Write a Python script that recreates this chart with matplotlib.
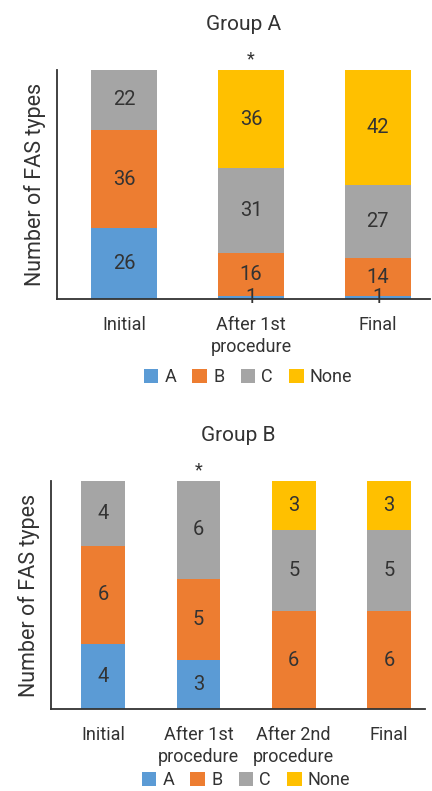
import matplotlib
matplotlib.use("Agg")
import matplotlib.pyplot as plt
from matplotlib.patches import Patch

plt.rcParams['font.family'] = ['Roboto', 'DejaVu Sans']

# Group A data
cats_a = ["Initial", "After 1st\nprocedure", "Final"]
a_a = [26, 1, 1]
b_a = [36, 16, 14]
c_a = [22, 31, 27]
none_a = [0, 36, 42]

# Group B data
cats_b = ["Initial", "After 1st\nprocedure", "After 2nd\nprocedure", "Final"]
a_b = [4, 3, 0, 0]
b_b = [6, 5, 6, 6]
c_b = [4, 6, 5, 5]
none_b = [0, 0, 3, 3]

series_names = ["A", "B", "C", "None"]
colors = ["#5B9BD5", "#ED7D31", "#A5A5A5", "#FFC000"]
text_col = "#333333"

fig = plt.figure(figsize=(4.32, 7.91), dpi=100)


def stacked(ax, cats, series, width, xlim, title, star_idx):
    x = list(range(len(cats)))
    bottoms = [0] * len(cats)
    for vals, col in zip(series, colors):
        ax.bar(x, vals, width=width, bottom=bottoms, color=col, linewidth=0)
        for i, v in enumerate(vals):
            if v > 0:
                ax.text(x[i], bottoms[i] + v / 2, str(v), ha="center", va="center",
                        fontsize=14.5, color=text_col)
        bottoms = [b + v for b, v in zip(bottoms, vals)]
    total = max(bottoms)
    ax.set_ylim(0, total)
    ax.set_xlim(*xlim)
    ax.set_xticks(x)
    ax.set_xticklabels(cats, fontsize=13, color=text_col, linespacing=1.3)
    ax.tick_params(axis="x", length=0, pad=12)
    ax.set_yticks([])
    for s in ["top", "right"]:
        ax.spines[s].set_visible(False)
    for s in ["left", "bottom"]:
        ax.spines[s].set_color("#333333")
        ax.spines[s].set_linewidth(1.3)
    ax.set_ylabel("Number of FAS types", fontsize=15.5, color=text_col, labelpad=8)
    ax.set_title(title, fontsize=15, color=text_col, pad=29)
    ax.annotate("*", xy=(x[star_idx], total), xytext=(0, 1), textcoords="offset points",
                ha="center", va="bottom", fontsize=13, color=text_col)


ax1 = fig.add_axes([0.132, 0.622, 0.863, 0.2895])
stacked(ax1, cats_a, [a_a, b_a, c_a, none_a], 0.52, (-0.53, 2.41), "Group A", 1)

ax2 = fig.add_axes([0.118, 0.1037, 0.866, 0.2883])
stacked(ax2, cats_b, [a_b, b_b, c_b, none_b], 0.46, (-0.55, 3.38), "Group B", 1)

handles = [Patch(facecolor=c, edgecolor="none", label=n) for c, n in zip(colors, series_names)]
for xc, yc in ((248 / 432, 1 - 377 / 791), (246 / 432, 1 - 780 / 791)):
    fig.legend(handles=handles, loc="center", bbox_to_anchor=(xc, yc), ncol=4,
               frameon=False, fontsize=13, handlelength=0.8, handleheight=0.8,
               handletextpad=0.35, columnspacing=0.9, borderpad=0, labelcolor=text_col)

fig.savefig("out.png", dpi=100)
